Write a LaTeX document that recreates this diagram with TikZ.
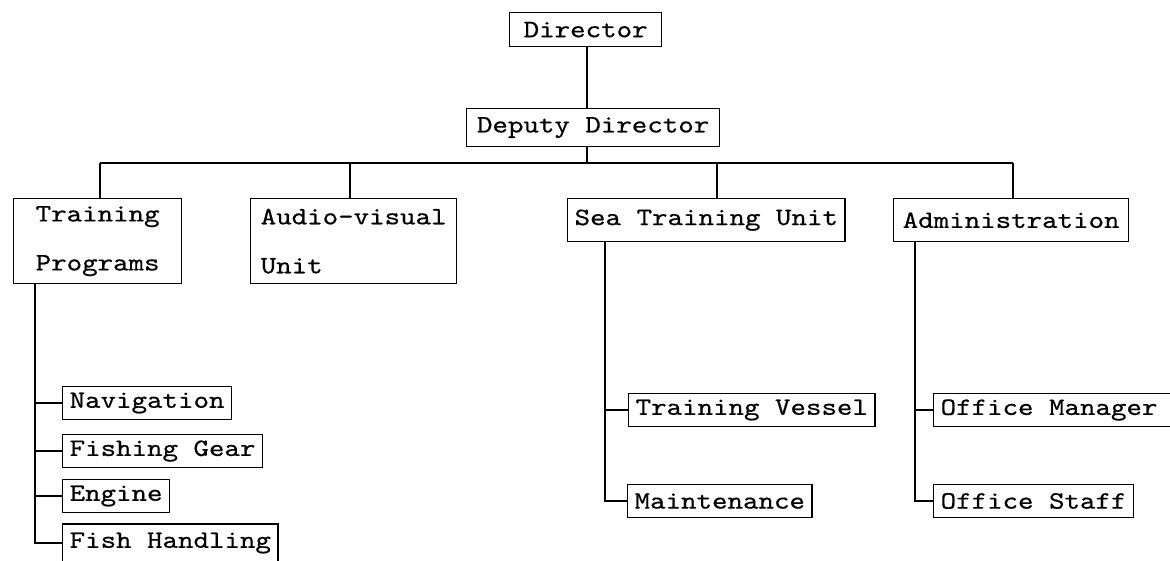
\documentclass[tikz,border=0pt]{standalone}
\usepackage{fontspec}
\usepackage{tikz}
\newfontfamily\chartfont[FakeStretch=1.18,FakeBold=0.5]{lmmono10-regular.otf}

\begin{document}
\begin{tikzpicture}[x=1pt,y=-1pt,line width=1.3pt,
  unit/.style={draw,anchor=north west,inner xsep=7pt,inner ysep=0pt,font=\chartfont\fontsize{25}{30}\selectfont},
  twoline/.style={unit,align=left,font=\chartfont\fontsize{25}{49}\selectfont,minimum height=85pt},
  sub/.style={unit,anchor=west,minimum height=33pt}]

\useasboundingbox (0,0) rectangle (1170,560);

\node [unit,minimum height=34pt,minimum width=152pt] (dir) at (509,12) {Director};
\node [unit,minimum height=38pt,minimum width=253pt] (dep) at (466,108) {Deputy Director};

\node [twoline,minimum width=168pt] (tp) at (13,198) {Training\\Programs};
\node [twoline,minimum width=206pt] (av) at (250,198) {Audio-visual\\Unit};
\node [unit,minimum height=43pt,minimum width=275pt] (stu) at (567,198) {Sea Training Unit};
\node [unit,minimum height=43pt,minimum width=235pt] (adm) at (893,198) {Administration};

\node [sub] (nav) at (62,403) {Navigation};
\node [sub] (fg) at (62,451) {Fishing Gear};
\node [sub] (eng) at (62,496) {Engine};
\node [sub,minimum height=38pt] (fh) at (62,543) {Fish Handling};

\node [sub] (tv) at (628,410) {Training Vessel};
\node [sub] (mnt) at (627,501) {Maintenance};
\node [sub] (om) at (933,410) {Office Manager\hspace{20pt}\mbox{}};
\node [sub] (ost) at (933,501) {Office Staff};

\coordinate (bus) at (587,163);
\coordinate (btp) at (100,163);
\coordinate (bav) at (350,163);
\coordinate (bstu) at (717,163);
\coordinate (badm) at (1013,163);
\coordinate (ltp) at (35,283);
\coordinate (lstu) at (605,241);
\coordinate (ladm) at (915,241);

\draw (bus |- dir.south) -- (bus |- dep.north);
\draw (bus |- dep.south) -- (bus);
\draw (btp) -- (badm);
\draw (btp) -- (btp |- tp.north);
\draw (bav) -- (bav |- av.north);
\draw (bstu) -- (bstu |- stu.north);
\draw (badm) -- (badm |- adm.north);

\draw (ltp) |- (fh.west);
\draw (ltp |- nav.west) -- (nav.west);
\draw (ltp |- fg.west) -- (fg.west);
\draw (ltp |- eng.west) -- (eng.west);

\draw (lstu) |- (mnt.west);
\draw (lstu |- tv.west) -- (tv.west);
\draw (ladm) |- (ost.west);
\draw (ladm |- om.west) -- (om.west);
\end{tikzpicture}
\end{document}
